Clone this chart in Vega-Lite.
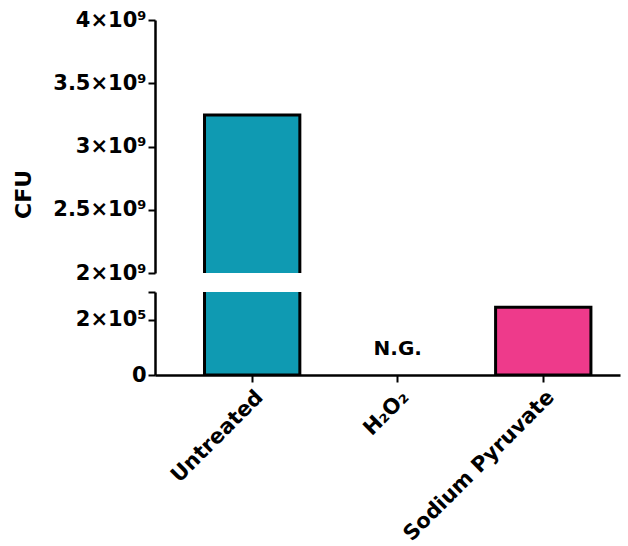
{
  "$schema": "https://vega.github.io/schema/vega-lite/v6.json",
  "padding": {"left": 12, "top": 9, "right": 5, "bottom": 5},
  "background": "white",
  "bounds": "flush",
  "data": {"values": [
    {"group": "Untreated", "cfu": 3250000000, "note": ""},
    {"group": "H₂O₂", "cfu": null, "note": "N.G."},
    {"group": "Sodium Pyruvate", "cfu": 245000, "note": ""}
  ]},
  "spacing": 19,
  "config": {
    "view": {"stroke": null},
    "font": "DejaVu Sans",
    "axis": {
      "domainColor": "black", "domainWidth": 2.5, "tickColor": "black", "tickWidth": 2, "tickSize": 7,
      "labelFont": "DejaVu Sans", "labelFontWeight": "bold", "labelColor": "black", "labelFontSize": 21,
      "titleFont": "DejaVu Sans", "titleFontWeight": "bold", "titleColor": "black", "titleFontSize": 22,
      "grid": false, "labelLimit": 0
    }
  },
  "vconcat": [
    {
      "width": 465, "height": 253,
      "mark": {"type": "bar", "stroke": "black", "strokeWidth": 3, "clip": true},
      "encoding": {
        "x": {"field": "group", "type": "nominal", "sort": null,
              "scale": {"domain": ["Untreated", "H₂O₂", "Sodium Pyruvate"], "paddingInner": 0.345, "paddingOuter": 0.27, "align": 0.63},
              "axis": null},
        "y": {"field": "cfu", "type": "quantitative",
              "scale": {"domain": [2000000000, 4000000000], "nice": false, "zero": false},
              "axis": {"title": "CFU", "values": [2000000000, 2500000000, 3000000000, 3500000000, 4000000000],
                       "labelExpr": "datum.value/1e9 + '×10⁹'", "titleY": 174, "titlePadding": 17}},
        "y2": {"datum": 0},
        "color": {"field": "group", "type": "nominal", "sort": null,
                  "scale": {"domain": ["Untreated", "H₂O₂", "Sodium Pyruvate"], "range": ["#0F9AB2", "#FFFFFF", "#EE3A8B"]}, "legend": null}
      }
    },
    {
      "width": 465, "height": 83,
      "layer": [
        {
          "mark": {"type": "bar", "stroke": "black", "strokeWidth": 3, "clip": true},
          "encoding": {
            "x": {"field": "group", "type": "nominal", "sort": null,
                  "scale": {"domain": ["Untreated", "H₂O₂", "Sodium Pyruvate"], "paddingInner": 0.345, "paddingOuter": 0.27, "align": 0.63},
                  "axis": {"title": null, "labelAngle": -45, "labelPadding": 4, "labelFontSize": 21}},
            "y": {"field": "cfu", "type": "quantitative",
                  "scale": {"domain": [0, 300000], "nice": false},
                  "axis": {"title": null, "values": [0, 200000, 300000],
                           "labelExpr": "datum.value == 0 ? '0' : (datum.value == 300000 ? '' : datum.value/1e5 + '×10⁵')"}},
            "color": {"field": "group", "type": "nominal", "sort": null,
                      "scale": {"domain": ["Untreated", "H₂O₂", "Sodium Pyruvate"], "range": ["#0F9AB2", "#FFFFFF", "#EE3A8B"]}, "legend": null}
          }
        },
        {
          "mark": {"type": "text", "fontWeight": "bold", "fontSize": 20, "font": "DejaVu Sans", "color": "black", "baseline": "bottom", "dy": -16},
          "encoding": {
            "x": {"field": "group", "type": "nominal", "sort": null},
            "y": {"datum": 0},
            "text": {"field": "note"}
          }
        }
      ]
    }
  ]
}
